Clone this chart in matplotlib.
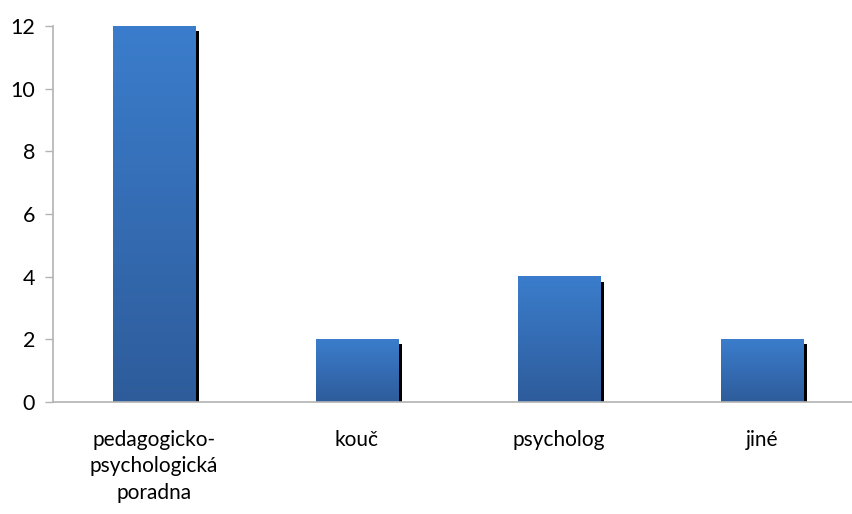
import numpy as np
import matplotlib
matplotlib.use("Agg")
import matplotlib.pyplot as plt
from matplotlib.colors import LinearSegmentedColormap
from matplotlib.transforms import ScaledTranslation

categories = ["pedagogicko-\npsychologická\nporadna", "kouč", "psycholog", "jiné"]
counts = [12, 2, 4, 2]
yticks = [0, 2, 4, 6, 8, 10, 12]

plt.rcParams["font.family"] = ["Lato", "DejaVu Sans"]

fig = plt.figure(figsize=(8.52, 5.14), dpi=100)
ax = fig.add_axes([52.7 / 852, 112 / 514, 810.4 / 852, 376 / 514])

x = np.arange(len(categories))
width = 0.405

# black drop shadow, shifted a few pixels right and down
shadow = ScaledTranslation(4 / 100, -5 / 100, fig.dpi_scale_trans)
ax.bar(x, counts, width=width, color="black", transform=ax.transData + shadow, zorder=1)

# vertical blue gradient for each bar
grad = LinearSegmentedColormap.from_list("bluegrad", ["#2E5C9B", "#3B7DCC"])
g = np.linspace(0, 1, 256).reshape(-1, 1)
for xi, h in zip(x, counts):
    ax.imshow(g, cmap=grad, origin="lower", aspect="auto",
              extent=(xi - width / 2, xi + width / 2, 0, h), zorder=2)

ax.set_xlim(-0.5, len(categories) - 0.5)
ax.set_ylim(0, 12)
ax.set_yticks(yticks)
ax.set_xticks(x)
ax.set_xticklabels(categories, fontsize=15, linespacing=1.42)

for side in ["top", "right"]:
    ax.spines[side].set_visible(False)
for side in ["left", "bottom"]:
    ax.spines[side].set_color("#B3B3B3")
    ax.spines[side].set_linewidth(1.2)
    ax.spines[side].set_zorder(3)

ax.tick_params(axis="y", direction="out", length=5.8, width=1, color="#B3B3B3",
               labelsize=15.5, pad=7)
ax.tick_params(axis="x", length=0, labelsize=15, pad=20)

fig.savefig("out.png", dpi=100)
